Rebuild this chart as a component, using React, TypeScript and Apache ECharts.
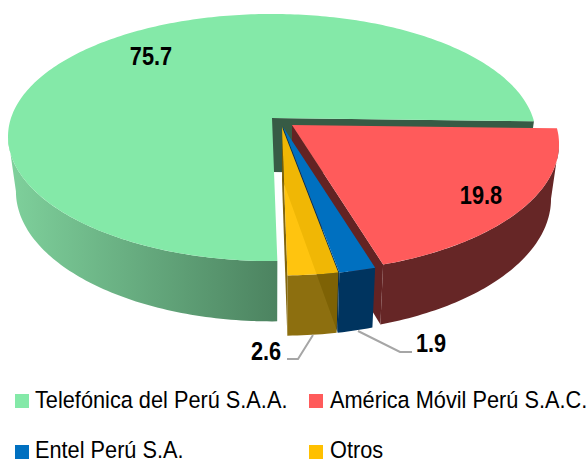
import React, { useEffect, useRef } from "react";
import * as echarts from "echarts";

const categories = ["Telefónica del Perú S.A.A.", "América Móvil Perú S.A.C.", "Entel Perú S.A.", "Otros"];
const shares = [75.7, 19.8, 1.9, 2.6];
const FIRST_ANGLE = 179;

const topColors = ["#84E9A8", "#FF5B5B", "#0070C0", "#FFC000"];
const wallColors = ["#375B45", "#632323", "#002E57", "#7A5C00"];
const sideColors = ["", "#662626", "#00345F", "#866600"];
const sliceOpacity = [1, 1, 1, 0.94];

const TILT_X = 0.15;
const TILT_Y = 0.158;
const TILT_DEPTH = 0.104;
const BOTTOM_SHRINK = 0.97;
const SILHOUETTE_RIGHT = 98.6;
const SILHOUETTE_LEFT = 261.4;
const sliceGeometry = [
  { cx: 272, cy: 118, a: 261, b: 120.5, d: 54 },
  { cx: 292, cy: 125, a: 264, b: 124, d: 54 },
  { cx: 283, cy: 127, a: 267, b: 125, d: 54 },
  { cx: 282, cy: 127, a: 267, b: 125, d: 54 },
];
const labelPositions = [
  [151, 56],
  [481, 195],
  [431, 343],
  [266, 351],
];
const leaderLines: number[][][] = [
  [],
  [],
  [[358, 331], [400, 352], [412, 352]],
  [[313, 335], [298, 359], [287, 359]],
];
const legendPositions = [
  [15, 394, 35, 400.5],
  [309, 394, 330, 400.5],
  [15, 445, 35, 450.5],
  [309, 445, 330, 450.5],
];

const total = shares.reduce((s, v) => s + v, 0);

function project(g: any, deg: number, bottom: boolean) {
  const t = (deg * Math.PI) / 180;
  const c = Math.cos(t);
  const sn = Math.sin(t);
  const sx = 1 / (1 + TILT_X * c);
  const sy = 1 / (1 + TILT_Y * c);
  const sd = 1 / (1 + TILT_DEPTH * c);
  return [
    g.cx + g.a * sn * sx * (bottom ? BOTTOM_SHRINK : 1),
    g.cy - g.b * c * sy + (bottom ? g.d * sd : 0),
  ];
}

function arc(g: any, from: number, to: number, bottom: boolean) {
  const pts: number[][] = [];
  const n = Math.max(2, Math.ceil(Math.abs(to - from)));
  for (let i = 0; i <= n; i++) pts.push(project(g, from + ((to - from) * i) / n, bottom));
  return pts;
}

function makeRenderItem(index: number) {
  return (_params: any, api: any) => {
    const value = api.value(0);
    let start = FIRST_ANGLE;
    for (let i = 0; i < index; i++) start += (shares[i] / total) * 360;
    if (start >= 360) start -= 360;
    const end = start + (value / total) * 360;
    const g = sliceGeometry[index];
    const opacity = sliceOpacity[index];
    const apexTop = [g.cx, g.cy];
    const apexBottom = [g.cx, g.cy + g.d];
    const children: any[] = [];

    children.push({
      type: "polygon",
      shape: { points: [apexTop, project(g, end, false), project(g, end, true), apexBottom] },
      style: { fill: wallColors[index], opacity },
    });

    const sideStart = Math.max(start, SILHOUETTE_RIGHT);
    const sideEnd = Math.min(end, SILHOUETTE_LEFT);
    const sideFill =
      index === 0
        ? new echarts.graphic.LinearGradient(0, 0, 1, 0, [
            { offset: 0, color: "#7FD19C" },
            { offset: 1, color: "#4C8360" },
          ])
        : sideColors[index];
    children.push({
      type: "polygon",
      shape: { points: [...arc(g, sideStart, sideEnd, false), ...arc(g, sideEnd, sideStart, true)] },
      style: { fill: sideFill, opacity },
    });

    children.push({
      type: "polygon",
      shape: { points: [apexTop, ...arc(g, start, end, false)] },
      style: { fill: topColors[index], opacity },
    });

    if (leaderLines[index].length) {
      children.push({
        type: "polyline",
        shape: { points: leaderLines[index] },
        style: { stroke: "#A6A6A6", lineWidth: 2, fill: "none" },
      });
    }

    const [lx, ly] = labelPositions[index];
    children.push({
      type: "text",
      x: lx,
      y: ly,
      scaleX: 0.87,
      style: {
        text: value.toFixed(1),
        font: 'bold 25px "Liberation Sans", Arial, sans-serif',
        fill: "#000000",
        align: "center",
        verticalAlign: "middle",
      },
    });

    return { type: "group", children };
  };
}

export default function App() {
  const ref = useRef<HTMLDivElement>(null);
  useEffect(() => {
    if (!ref.current) return;
    const chart = echarts.init(ref.current, undefined, { renderer: "svg" });
    chart.setOption({
      animation: false,
      backgroundColor: "#FFFFFF",
      series: categories.map((name, i) => ({
        type: "custom",
        name,
        coordinateSystem: "none",
        silent: true,
        z: i + 1,
        data: [[shares[i]]],
        itemStyle: { color: topColors[i] },
        renderItem: makeRenderItem(i),
      })),
      graphic: categories.flatMap((name, i) => {
        const [ix, iy, tx, ty] = legendPositions[i];
        return [
          { type: "rect", x: ix, y: iy, shape: { width: 14, height: 14 }, style: { fill: topColors[i] }, silent: true },
          {
            type: "text",
            x: tx,
            y: ty,
            scaleX: 0.925,
            silent: true,
            style: {
              text: name,
              font: '23.5px "Liberation Sans", Arial, sans-serif',
              fill: "#000000",
              align: "left",
              verticalAlign: "middle",
            },
          },
        ];
      }),
    });
    return () => chart.dispose();
  }, []);
  return <div ref={ref} style={{ position: "absolute", left: 0, top: 0, width: 587, height: 462 }} />;
}
